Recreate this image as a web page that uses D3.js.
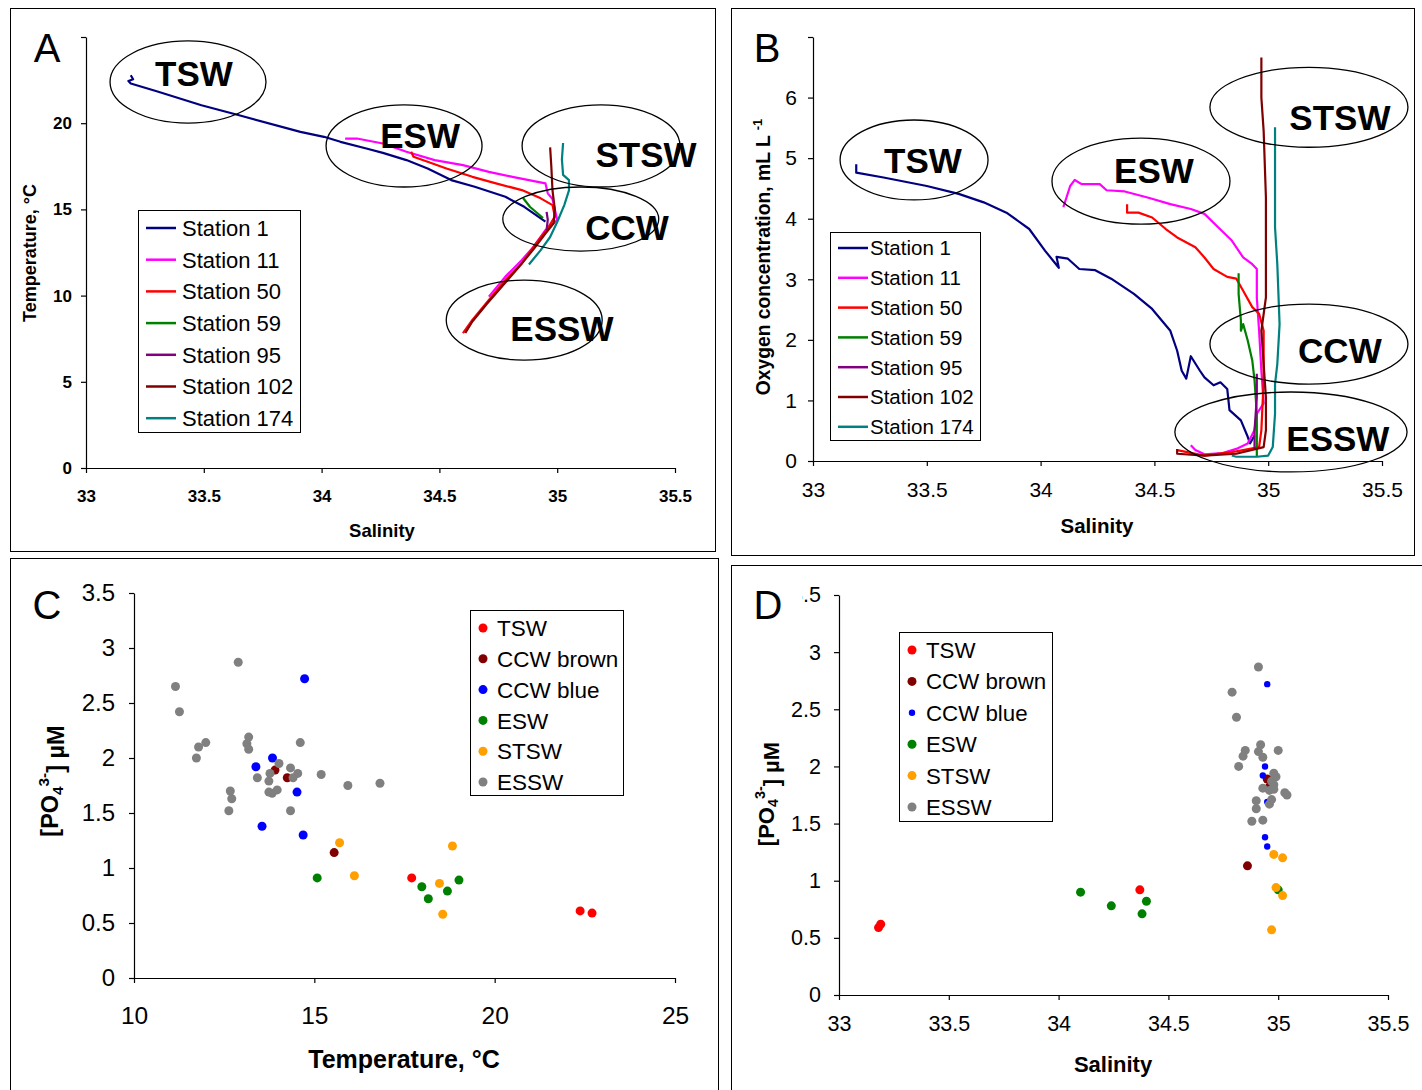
<!DOCTYPE html>
<html><head><meta charset="utf-8">
<script src="https://cdn.jsdelivr.net/npm/d3@7"></script>
<style>body{margin:0;background:#fff}text{font-family:"Liberation Sans",Arial,sans-serif}</style>
</head><body><svg id="c" width="1422" height="1090"></svg>
<script>
// ---------- DATA ----------
const stationNames = ["Station 1","Station 11","Station 50","Station 59","Station 95","Station 102","Station 174"];
const stationColors = ["#000080","#ff00ff","#ff0000","#008000","#800080","#800000","#008080"];

// Panel A: [salinity, temperature]
const st1_TS = [[33.19,22.78],[33.20,22.55],[33.18,22.45],[33.19,22.3],[33.30,21.85],[33.49,21.04],[33.65,20.46],[33.91,19.50],[34.01,19.21],[34.08,18.92],[34.19,18.53],[34.26,18.28],[34.36,17.86],[34.45,17.37],[34.55,16.70],[34.65,16.31],[34.78,15.73],[34.86,15.15],[34.95,14.29]];
const st11_TS = [[34.10,19.11],[34.15,19.11],[34.26,18.82],[34.36,18.34],[34.48,17.86],[34.60,17.57],[34.71,17.18],[34.81,16.89],[34.95,16.51],[34.96,15.93],[34.98,15.6],[35.00,14.38],[34.95,13.80],[34.90,12.84],[34.85,12.07],[34.78,11.10],[34.71,9.94]];
const st50_TS = [[34.38,18.34],[34.39,18.05],[34.45,17.76],[34.53,17.37],[34.64,16.89],[34.74,16.51],[34.85,16.12],[34.93,15.64],[34.98,15.25],[34.99,14.58],[34.96,13.9],[34.91,13.03],[34.85,11.87],[34.78,10.91],[34.71,9.75],[34.64,8.59],[34.60,7.82]];
const st59_TS = [[34.855,15.66],[34.885,15.14],[34.94,14.50]];
const st95_TS = [[34.955,14.86],[34.96,14.4],[34.955,13.8]];
const st102_TS = [[34.97,18.6],[34.975,17.5],[34.98,16.1],[34.99,15.0],[34.985,14.2],[34.95,13.6],[34.90,12.7],[34.84,11.7],[34.77,10.6],[34.70,9.5],[34.64,8.5],[34.61,7.83]];
const st174_TS = [[35.025,18.85],[35.02,17.9],[35.025,17.0],[35.05,16.7],[35.05,16.1],[35.03,15.25],[35.0,14.27],[34.97,13.4],[34.93,12.64],[34.88,11.8]];

// Panel B: [salinity, oxygen]
const st1_O2 = [[33.19,4.90],[33.19,4.76],[33.31,4.68],[33.50,4.54],[33.64,4.41],[33.75,4.27],[33.85,4.10],[33.95,3.83],[34.02,3.47],[34.08,3.19],[34.07,3.37],[34.12,3.34],[34.17,3.17],[34.24,3.15],[34.31,3.01],[34.41,2.76],[34.49,2.51],[34.57,2.15],[34.60,1.82],[34.62,1.49],[34.64,1.36],[34.66,1.73],[34.70,1.49],[34.72,1.38],[34.76,1.25],[34.79,1.30],[34.82,1.19],[34.83,0.84],[34.88,0.67],[34.91,0.40],[34.92,0.29],[34.94,0.42]];
const st11_O2 = [[34.10,4.19],[34.13,4.54],[34.15,4.64],[34.18,4.57],[34.26,4.57],[34.29,4.47],[34.37,4.45],[34.47,4.35],[34.57,4.24],[34.66,4.16],[34.72,4.08],[34.78,3.86],[34.84,3.64],[34.89,3.36],[34.93,3.25],[34.95,3.17],[34.95,2.70],[34.96,2.15],[34.97,1.49],[34.98,0.95],[34.95,0.78],[34.94,0.51],[34.91,0.29],[34.86,0.20],[34.80,0.13],[34.72,0.11],[34.68,0.18],[34.66,0.26]];
const st50_O2 = [[34.38,4.24],[34.38,4.10],[34.43,4.10],[34.49,4.02],[34.55,3.83],[34.60,3.69],[34.68,3.53],[34.72,3.36],[34.76,3.17],[34.82,3.04],[34.86,3.01],[34.89,2.81],[34.93,2.54],[34.96,2.43],[34.98,2.15],[34.98,1.33],[34.97,0.51],[34.96,0.23],[34.86,0.16],[34.72,0.09],[34.60,0.18]];
const st59_O2 = [[34.87,3.10],[34.87,2.76],[34.88,2.32],[34.88,2.15],[34.89,2.26],[34.91,1.99],[34.93,1.66],[34.94,1.33],[34.95,0.78],[34.95,0.23],[34.95,0.07]];
const st95_O2 = [[34.95,1.44],[34.95,1.05],[34.94,0.51],[34.94,0.18]];
const st102_O2 = [[34.97,6.66],[34.97,6.0],[34.98,5.45],[34.99,4.35],[34.99,3.25],[34.99,2.70],[34.97,2.15],[34.98,1.60],[34.99,1.05],[34.99,0.51],[34.98,0.23],[34.86,0.12],[34.72,0.09],[34.60,0.12],[34.60,0.20]];
const st174_O2 = [[35.03,5.51],[35.03,4.35],[35.03,3.86],[35.04,3.25],[35.05,2.26],[35.04,1.60],[35.03,1.27],[35.03,0.78],[35.02,0.23],[35.0,0.09],[34.95,0.07],[34.86,0.07],[34.84,0.09]];

// Water-mass annotations: [label, centre x, centre y, radius x, radius y, text x, text y] in data units
const annotA = [["TSW",33.433,22.39,0.331,2.38,33.458,22.15],["ESW",34.35,18.68,0.331,2.38,34.418,18.56],["STSW",35.186,18.68,0.335,2.38,35.377,17.46],["CCW",35.10,14.44,0.331,1.86,35.296,13.22],["ESSW",34.86,8.58,0.331,2.32,35.02,7.37]];
const annotB = [["TSW",33.444,4.97,0.325,0.66,33.483,4.75],["ESW",34.441,4.62,0.391,0.71,34.498,4.59],["STSW",35.179,5.84,0.435,0.66,35.315,5.46],["CCW",35.179,1.93,0.435,0.66,35.315,1.62],["ESSW",35.10,0.479,0.51,0.66,35.306,0.17]];

// Panels C/D groups
const groupNames = ["TSW","CCW brown","CCW blue","ESW","STSW","ESSW"];
const groupColors = ["#ff0000","#800000","#0000ff","#008000","#ffa000","#808080"];
// Panel C: [temperature, PO4]
const tswC = [[17.70,0.91],[22.37,0.61],[22.70,0.59]];
const ccwBrownC = [[13.91,1.89],[14.25,1.82],[15.55,1.14]];
const ccwBlueC = [[14.73,2.72],[13.84,2.00],[13.38,1.92],[14.52,1.69],[13.55,1.38],[14.69,1.30]];
const eswC = [[15.08,0.91],[17.98,0.83],[18.16,0.72],[18.69,0.79],[19.01,0.89]];
const stswC = [[15.70,1.23],[16.11,0.93],[18.47,0.86],[18.56,0.58],[18.83,1.20]];
const esswC = [[11.15,2.65],[11.26,2.42],[12.89,2.87],[11.79,2.10],[11.99,2.14],[11.73,2.00],[13.18,2.19],[13.13,2.13],[13.18,2.08],[13.42,1.82],[12.67,1.70],[12.71,1.63],[12.63,1.52],[13.77,1.86],[13.74,1.79],[13.74,1.69],[13.83,1.68],[13.97,1.71],[14.02,1.95],[14.34,1.91],[14.54,1.86],[14.41,1.82],[14.61,2.14],[14.34,1.52],[15.19,1.85],[15.93,1.75],[16.82,1.77]];
// Panel D: [salinity, PO4]
const tswD = [[33.18,0.59],[33.19,0.62],[34.37,0.92]];
const ccwBrownD = [[34.95,1.89],[34.96,1.82],[34.86,1.13]];
const ccwBlueD = [[34.95,2.72],[34.94,2.00],[34.93,1.92],[34.95,1.69],[34.94,1.38],[34.95,1.30]];
const eswD = [[34.10,0.90],[34.24,0.78],[34.38,0.71],[34.40,0.82],[35.00,0.92]];
const stswD = [[34.98,1.23],[35.02,1.20],[34.99,0.94],[35.02,0.87],[34.97,0.57]];
const esswD = [[34.91,2.87],[34.79,2.65],[34.81,2.43],[34.85,2.14],[34.84,2.09],[34.82,2.00],[34.92,2.19],[34.91,2.13],[34.93,2.08],[35.00,2.14],[34.98,1.94],[34.99,1.91],[34.97,1.87],[34.98,1.84],[34.93,1.81],[34.96,1.79],[34.98,1.80],[35.03,1.77],[35.04,1.75],[34.90,1.70],[34.97,1.71],[34.96,1.67],[34.90,1.63],[34.88,1.52],[34.93,1.53]];

const ticksSal = [33,33.5,34,34.5,35,35.5];
const ticksT = [0,5,10,15,20,25];
const ticksO2 = [0,1,2,3,4,5,6,7];
const ticksTemp = [10,15,20,25];
const ticksPO4 = [0,0.5,1,1.5,2,2.5,3,3.5];

// ---------- DRAW ----------
const svg = d3.select("#c");
svg.append("rect").attr("width",1422).attr("height",1090).attr("fill","#fff");
const frames = [[10.5,8.5,705,543],[731.5,8.5,683,547],[10.5,558.5,708,540],[731.5,565.5,700,540]];
svg.selectAll("rect.frame").data(frames).join("rect").attr("class","frame")
  .attr("x",d=>d[0]).attr("y",d=>d[1]).attr("width",d=>d[2]).attr("height",d=>d[3])
  .attr("fill","none").attr("stroke","#000").attr("stroke-width",1);

function axes(g, x, y, o){
  const ax = g.append("g").attr("transform",`translate(0,${y.range()[0]})`)
    .call(d3.axisBottom(x).tickValues(o.xt).tickSize(5).tickSizeOuter(0).tickPadding(o.xpad).tickFormat(d3.format("")));
  const ay = g.append("g").attr("transform",`translate(${x.range()[0]},0)`)
    .call(d3.axisLeft(y).tickValues(o.yt).tickSize(5).tickSizeOuter(0).tickPadding(o.ypad).tickFormat(o.yfmt||d3.format("")));
  [ax,ay].forEach(a=>{
    a.selectAll("text").attr("font-family","Liberation Sans, Arial, sans-serif").attr("fill","#000")
      .attr("font-size",o.fs).attr("font-weight",o.bold?"bold":"normal");
    a.selectAll("line,path").attr("stroke","#000").attr("stroke-width",1.2);
  });
  ax.selectAll("text").attr("font-size",o.xfs||o.fs);
  return {ax,ay};
}

const line = (x,y)=>d3.line().x(d=>x(d[0])).y(d=>y(d[1]));

function stationPanel(g, x, y, series, annots, legend){
  series.forEach((s,i)=>{
    g.append("path").datum(s).attr("d",line(x,y)).attr("fill","none")
      .attr("stroke",stationColors[i]).attr("stroke-width",2.2).attr("stroke-linejoin","round");
  });
  annots.forEach(a=>{
    g.append("ellipse").attr("cx",x(a[1])).attr("cy",y(a[2]))
      .attr("rx",x(a[1]+a[3])-x(a[1])).attr("ry",y(a[2]-a[4])-y(a[2]))
      .attr("fill","none").attr("stroke","#000").attr("stroke-width",1.3);
    g.append("text").attr("x",x(a[5])).attr("y",y(a[6])).attr("text-anchor","middle")
      .attr("font-size",35).attr("font-weight","bold").text(a[0]);
  });
  const L = legend;
  g.append("rect").attr("x",L.x+0.5).attr("y",L.y+0.5).attr("width",L.w).attr("height",L.h)
    .attr("fill","#fff").attr("stroke","#000").attr("stroke-width",1);
  stationNames.forEach((n,i)=>{
    const cy = L.y+L.first+i*L.step;
    g.append("line").attr("x1",L.x+8).attr("x2",L.x+38).attr("y1",cy).attr("y2",cy)
      .attr("stroke",stationColors[i]).attr("stroke-width",2.5);
    g.append("text").attr("x",L.x+L.tx).attr("y",cy).attr("dy","0.36em").attr("font-size",L.fs).text(n);
  });
}

// Panel A
{
  const g = svg.append("g");
  const x = d3.scaleLinear([33,35.5],[86,675]);
  const y = d3.scaleLinear([0,25],[468,37]);
  axes(g,x,y,{xt:ticksSal,yt:ticksT,fs:17,bold:true,xpad:17,ypad:9,yfmt:d=>d===25?"":d});
  stationPanel(g,x,y,[st1_TS,st11_TS,st50_TS,st59_TS,st95_TS,st102_TS,st174_TS],annotA,
    {x:138,y:210,w:162,h:222,first:18,step:31.7,fs:22,tx:44});
  g.append("text").attr("x",382).attr("y",537).attr("text-anchor","middle").attr("font-size",18.5).attr("font-weight","bold").text("Salinity");
  g.append("text").attr("transform","translate(30,253) rotate(-90)").attr("text-anchor","middle").attr("dy","0.36em")
    .attr("font-size",18).attr("font-weight","bold").text("Temperature, °C");
  g.append("text").attr("x",47).attr("y",62).attr("text-anchor","middle").attr("font-size",40).text("A");
}
// Panel B
{
  const g = svg.append("g");
  const x = d3.scaleLinear([33,35.5],[813,1382]);
  const y = d3.scaleLinear([0,7],[461,37]);
  axes(g,x,y,{xt:ticksSal,yt:ticksO2,fs:21,xpad:16,ypad:11,yfmt:d=>d===7?"":d});
  stationPanel(g,x,y,[st1_O2,st11_O2,st50_O2,st59_O2,st95_O2,st102_O2,st174_O2],annotB,
    {x:830,y:232,w:150,h:208,first:16,step:29.8,fs:20.5,tx:40});
  g.append("text").attr("x",1097).attr("y",533).attr("text-anchor","middle").attr("font-size",20.5).attr("font-weight","bold").text("Salinity");
  const t = g.append("text").attr("transform","translate(763,257) rotate(-90)").attr("text-anchor","middle").attr("dy","0.36em")
    .attr("font-size",19.3).attr("font-weight","bold");
  t.append("tspan").text("Oxygen concentration, mL L ");
  t.append("tspan").attr("dy","-0.6em").attr("font-size",13).text("-1");
  g.append("text").attr("x",767).attr("y",62).attr("text-anchor","middle").attr("font-size",40).text("B");
}

function dotPanel(g, x, y, groups, legend, radii){
  groups.forEach((s,i)=>{
    g.append("g").selectAll("circle").data(s).join("circle")
      .attr("cx",d=>x(d[0])).attr("cy",d=>y(d[1])).attr("r",radii[i]).attr("fill",groupColors[i]);
  });
  const L = legend;
  g.append("rect").attr("x",L.x+0.5).attr("y",L.y+0.5).attr("width",L.w).attr("height",L.h)
    .attr("fill","#fff").attr("stroke","#000").attr("stroke-width",1);
  groupNames.forEach((n,i)=>{
    const cy = L.y+L.first+i*L.step;
    g.append("circle").attr("cx",L.x+13).attr("cy",cy).attr("r",radii[i]).attr("fill",groupColors[i]);
    g.append("text").attr("x",L.x+27).attr("y",cy).attr("dy","0.36em").attr("font-size",L.fs).text(n);
  });
}
function po4Title(g, cx, cy, fs){
  const t = g.append("text").attr("transform",`translate(${cx},${cy}) rotate(-90)`).attr("text-anchor","middle").attr("dy","0.36em")
    .attr("font-size",fs).attr("font-weight","bold");
  t.append("tspan").text("[PO");
  t.append("tspan").attr("dy","0.3em").attr("font-size",fs*0.65).text("4");
  t.append("tspan").attr("dy","-0.95em").attr("font-size",fs*0.65).text("3-");
  t.append("tspan").attr("dy","0.65em").text("] µM");
}
// Panel C
{
  const g = svg.append("g");
  const x = d3.scaleLinear([10,25],[134,675]);
  const y = d3.scaleLinear([0,3.5],[978,593]);
  axes(g,x,y,{xt:ticksTemp,yt:ticksPO4,fs:24,xfs:24.5,xpad:24,ypad:14});
  dotPanel(g,x,y,[tswC,ccwBrownC,ccwBlueC,eswC,stswC,esswC],{x:470,y:610,w:153,h:185,first:18,step:30.8,fs:22.5},[4.5,4.5,4.5,4.5,4.5,4.5]);
  g.append("text").attr("x",404).attr("y",1068).attr("text-anchor","middle").attr("font-size",25).attr("font-weight","bold").text("Temperature, °C");
  po4Title(g,50,781,23.5);
  g.append("text").attr("x",47).attr("y",619).attr("text-anchor","middle").attr("font-size",40).text("C");
}
// Panel D
{
  const g = svg.append("g");
  const x = d3.scaleLinear([33,35.5],[839,1388]);
  const y = d3.scaleLinear([0,3.5],[995,595]);
  axes(g,x,y,{xt:ticksSal,yt:ticksPO4,fs:21.5,xpad:16,ypad:13});
  dotPanel(g,x,y,[tswD,ccwBrownD,ccwBlueD,eswD,stswD,esswD],{x:899,y:632,w:153,h:189,first:18,step:31.4,fs:22.3},[4.5,4.5,3.2,4.5,4.5,4.5]);
  g.append("text").attr("x",1113).attr("y",1072).attr("text-anchor","middle").attr("font-size",22).attr("font-weight","bold").text("Salinity");
  po4Title(g,766,794,22);
  g.append("rect").attr("x",750).attr("y",582).attr("width",52).attr("height",40).attr("fill","#fff");
  g.append("text").attr("x",768).attr("y",619).attr("text-anchor","middle").attr("font-size",40).text("D");
}
</script></body></html>
